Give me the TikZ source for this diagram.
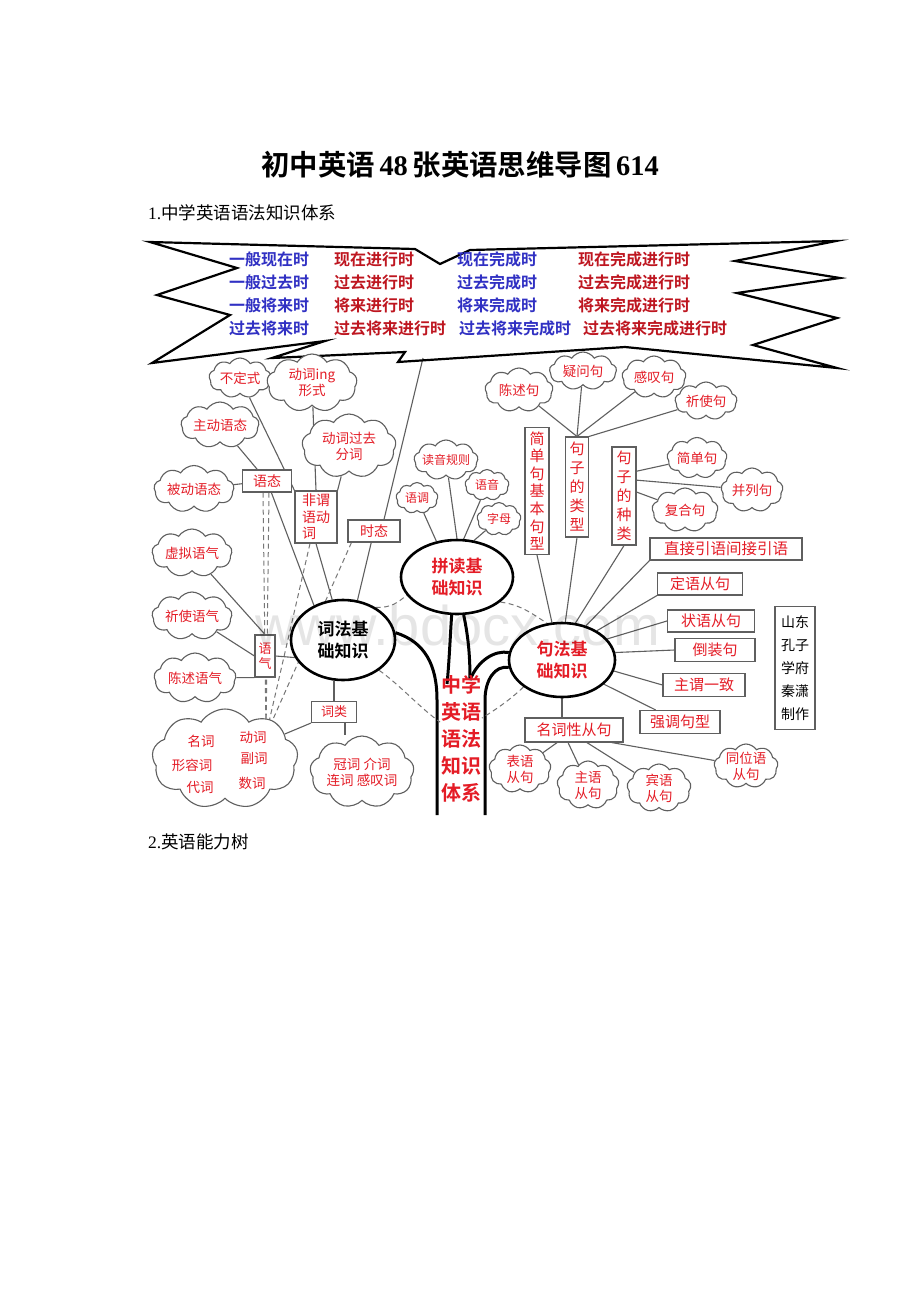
\documentclass[tikz,border=0pt]{standalone}
\usepackage{fontspec}
\setmainfont{Liberation Serif}
\setsansfont{Liberation Sans}
\newfontfamily\cjk[BoldFont={Noto Sans CJK SC Bold}]{Noto Sans CJK SC}
\usetikzlibrary{shapes.symbols,shapes.geometric,calc}
\pgfdeclarelayer{bg}
\pgfsetlayers{bg,main}
\definecolor{rd}{RGB}{228,28,38}
\definecolor{drd}{RGB}{190,22,32}
\definecolor{blu}{RGB}{48,48,195}
\definecolor{edge}{RGB}{95,95,95}
\tikzset{
 cl/.style={cloud, cloud puffs=9, cloud puff arc=115, cloud ignores aspect, draw=edge, line width=1.1pt, inner sep=0pt, fill=white},
 ctext/.style={font=\cjk\fontsize{13.5}{16}\selectfont, text=rd, align=center, inner sep=0pt},
 bx/.style={draw=edge, line width=1.1pt, inner sep=1pt, font=\cjk\fontsize{14}{17}\selectfont, text=rd, fill=white, align=center},
 el/.style={ellipse, draw=black, line width=2.6pt, inner sep=0pt, fill=white, align=center, font=\cjk\bfseries\fontsize{17}{22}\selectfont},
 ln/.style={draw=edge, line width=1.1pt},
 dl/.style={draw=edge!85, line width=1pt, dash pattern=on 5pt off 3.5pt},
 bt/.style={font=\cjk\bfseries\fontsize{16}{18}\selectfont, anchor=west, inner sep=0pt},
 tk/.style={draw=black, line width=3pt},
}
\begin{document}
\begin{tikzpicture}[x=1pt,y=-1pt]
\useasboundingbox (0,0) rectangle (920,1302);
\begin{pgfonlayer}{bg}
\fill[white] (0,0) rectangle (920,1302);
\end{pgfonlayer}

% headings
\node[font=\fontsize{28.4}{32}\selectfont, inner sep=0pt] (title) at (460,165) {{\cjk\bfseries 初中英语}\,\textbf{48}\,{\cjk\bfseries 张英语思维导图}\,\textbf{614}};
\node[anchor=west, font=\fontsize{17.5}{19}\selectfont, inner sep=0pt] (h1) at (148,213) {1.{\cjk 中学英语语法知识体系}};
\node[anchor=west, font=\fontsize{17.5}{19}\selectfont, inner sep=0pt] (h2) at (148,842) {2.{\cjk 英语能力树}};

% burst
\draw[line width=2.2pt, line join=miter, miter limit=20]
 (150,242) -- (415,249) -- (440,264) -- (470,250) -- (836,241) -- (735,261) -- (840,278)
 -- (737,293) -- (837,318) -- (753,345) -- (837,368) -- (625,347) -- (398,362)
 -- (405,352) -- (272,358) -- (325,341) -- (152,363) -- (230,315) -- (157,295) -- (237,268) -- cycle;
\coordinate (b1) at (423,358);

\foreach \txt/\x/\y/\c/\n in {
 一般现在时/229/259/blu/t11, 现在进行时/334/259/drd/t12, 现在完成时/457/259/blu/t13, 现在完成进行时/578/259/drd/t14,
 一般过去时/229/282/blu/t21, 过去进行时/334/282/drd/t22, 过去完成时/457/282/blu/t23, 过去完成进行时/578/282/drd/t24,
 一般将来时/229/305/blu/t31, 将来进行时/334/305/drd/t32, 将来完成时/457/305/blu/t33, 将来完成进行时/578/305/drd/t34,
 过去将来时/229/328/blu/t41, 过去将来进行时/334/328/drd/t42, 过去将来完成时/459/328/blu/t43, 过去将来完成进行时/583/328/drd/t44}
 \node[bt, text=\c] (\n) at (\x,\y) {\txt};

% ellipses
\node[el, minimum width=104pt, minimum height=80pt] (cf) at (343,640) {词法基\\础知识};
\node[el, minimum width=112pt, minimum height=74pt, text=rd] (pd) at (457,577) {拼读基\\础知识};
\node[el, minimum width=106pt, minimum height=74pt, text=rd] (jf) at (562,660) {句法基\\础知识};

% left clouds
\node[cl, minimum width=62pt, minimum height=40pt, label={[ctext]center:不定式}] (ndb) at (240,378) {};
\node[cl, minimum width=90pt, minimum height=58pt, label={[ctext]center:动词ing\\形式}] (ing) at (312,383) {};
\node[cl, minimum width=78pt, minimum height=46pt, label={[ctext]center:主动语态}] (zdyt) at (220,425) {};
\node[cl, minimum width=94pt, minimum height=64pt, label={[ctext]center:动词过去\\分词}] (gqfc) at (349,446) {};
\node[cl, minimum width=80pt, minimum height=47pt, label={[ctext]center:被动语态}] (bdyt) at (194,489) {};
\node[cl, minimum width=80pt, minimum height=48pt, label={[ctext]center:虚拟语气}] (xnyq) at (192,553) {};
\node[cl, minimum width=80pt, minimum height=48pt, label={[ctext]center:祈使语气}] (qsyq) at (192,616) {};
\node[cl, minimum width=82pt, minimum height=50pt, label={[ctext]center:陈述语气}] (csyq) at (195,678) {};
\node[cl, minimum width=146pt, minimum height=100pt] (bigc) at (225,759) {};
\node[ctext] (n1) at (201,741) {名词};
\node[ctext] (n2) at (253,737) {动词};
\node[ctext] (n3) at (192,765) {形容词};
\node[ctext] (n4) at (254,758) {副词};
\node[ctext] (n5) at (200,787) {代词};
\node[ctext] (n6) at (252,783) {数词};
\node[cl, minimum width=104pt, minimum height=72pt, label={[ctext]center:冠词\ 介词\\连词\ 感叹词}] (gcjc) at (362,772) {};

% left boxes
\node[bx, minimum width=49pt, minimum height=22pt] (yt) at (267,481) {语态};
\node[bx, minimum width=42pt, minimum height=52pt, align=left, font=\cjk\fontsize{14}{16.5}\selectfont] (fwy) at (316,517) {非谓\\语动\\词};
\node[bx, minimum width=52pt, minimum height=22pt] (st) at (374,531) {时态};
\node[bx, minimum width=20pt, minimum height=42pt, font=\cjk\fontsize{13}{15}\selectfont] (yq) at (265,656) {语\\气};
\node[bx, minimum width=45pt, minimum height=21pt, font=\cjk\fontsize{13}{15}\selectfont] (clb) at (334,712) {词类};

% phonics clouds
\node[cl, minimum width=64pt, minimum height=40pt, label={[ctext,font=\cjk\fontsize{12}{14}\selectfont]center:读音规则}] (dyg) at (446,460) {};
\node[cl, minimum width=42pt, minimum height=31pt, label={[ctext,font=\cjk\fontsize{12}{14}\selectfont]center:语调}] (yd) at (417,498) {};
\node[cl, minimum width=44pt, minimum height=31pt, label={[ctext,font=\cjk\fontsize{12}{14}\selectfont]center:语音}] (yy) at (487,485) {};
\node[cl, minimum width=44pt, minimum height=33pt, label={[ctext,font=\cjk\fontsize{12}{14}\selectfont]center:字母}] (zm) at (499,519) {};

% sentence clouds
\node[cl, minimum width=68pt, minimum height=44pt, label={[ctext]center:陈述句}] (csj) at (519,390) {};
\node[cl, minimum width=67pt, minimum height=38pt, label={[ctext]center:疑问句}] (ywj) at (583,371) {};
\node[cl, minimum width=64pt, minimum height=42pt, label={[ctext]center:感叹句}] (gtj) at (654,377) {};
\node[cl, minimum width=62pt, minimum height=38pt, label={[ctext]center:祈使句}] (qsj) at (706,401) {};
\node[cl, minimum width=60pt, minimum height=41pt, label={[ctext]center:简单句}] (jdj) at (697,458) {};
\node[cl, minimum width=62pt, minimum height=44pt, label={[ctext]center:并列句}] (blj) at (752,490) {};
\node[cl, minimum width=66pt, minimum height=44pt, label={[ctext]center:复合句}] (fhj) at (685,510) {};
\node[cl, minimum width=62pt, minimum height=48pt, label={[ctext]center:表语\\从句}] (byc) at (520,769) {};
\node[cl, minimum width=62pt, minimum height=48pt, label={[ctext]center:主语\\从句}] (zyc) at (588,785) {};
\node[cl, minimum width=64pt, minimum height=48pt, label={[ctext]center:宾语\\从句}] (byc2) at (659,788) {};
\node[cl, minimum width=64pt, minimum height=44pt, label={[ctext]center:同位语\\从句}] (twy) at (746,766) {};

% sentence boxes
\node[bx, minimum width=24pt, minimum height=127pt, font=\cjk\fontsize{15}{17.6}\selectfont] (jdjx) at (537,491) {简\\单\\句\\基\\本\\句\\型};
\node[bx, minimum width=23pt, minimum height=100pt, font=\cjk\fontsize{15}{19}\selectfont] (jzlx) at (577,487) {句\\子\\的\\类\\型};
\node[bx, minimum width=24pt, minimum height=98pt, font=\cjk\fontsize{15}{19}\selectfont] (jzzl) at (624,496) {句\\子\\的\\种\\类};
\node[bx, minimum width=152pt, minimum height=22pt, font=\cjk\fontsize{15.5}{17}\selectfont] (zjyy) at (726,549) {直接引语间接引语};
\node[bx, minimum width=85pt, minimum height=22pt, font=\cjk\fontsize{15}{17}\selectfont] (dycj) at (700,584) {定语从句};
\node[bx, minimum width=87pt, minimum height=22pt, font=\cjk\fontsize{15}{17}\selectfont] (zycj) at (711,621) {状语从句};
\node[bx, minimum width=80pt, minimum height=23pt, font=\cjk\fontsize{15}{17}\selectfont] (dzj) at (715,650) {倒装句};
\node[bx, minimum width=82pt, minimum height=23pt, font=\cjk\fontsize{15}{17}\selectfont] (zwyz) at (704,685) {主谓一致};
\node[bx, minimum width=80pt, minimum height=23pt, font=\cjk\fontsize{15}{17}\selectfont] (qdjx) at (680,722) {强调句型};
\node[bx, minimum width=98pt, minimum height=24pt, font=\cjk\fontsize{15}{17}\selectfont] (mcx) at (574,730) {名词性从句};
\node[bx, minimum width=40pt, minimum height=123pt, text=black, font=\cjk\fontsize{14}{23}\selectfont] (sd) at (795,668) {山东\\孔子\\学府\\秦潇\\制作};

% trunk text
\node[align=center, inner sep=0pt, text=rd, font=\cjk\bfseries\fontsize{20}{27}\selectfont] (trunk) at (461,739) {中学\\英语\\语法\\知识\\体系};

\begin{pgfonlayer}{bg}
% trunk lines
\draw[tk] (cf.8) .. controls (425,642) and (437,665) .. (437,700) -- (437,815) coordinate (tl);
\draw[tk] (pd.-98) .. controls (450,640) and (449,665) .. (447,684) coordinate (tt1);
\draw[tk] (pd.-80) .. controls (469,640) and (470,660) .. (470,680) coordinate (tt2);
\draw[tk] (tt2) .. controls (478,660) and (495,650) .. (jf.172);
\draw[tk] (jf.188) .. controls (495,665) and (485,680) .. (485,700) -- (485,815) coordinate (tr);
% dashed ring
\draw[dl] (cf.45) .. controls (392,608) and (398,602) .. (pd.200);
\draw[dl] (pd.-30) .. controls (522,605) and (532,614) .. (jf.112);
\draw[dl] (jf.215) .. controls (510,700) and (495,710) .. (482,718) coordinate (dr);
\draw[dl] (cf.-40) .. controls (400,685) and (420,708) .. (440,722) coordinate (dlf);
% left connectors
\draw[ln] (ndb) -- (fwy.north west);
\draw[ln] (ing) -- (fwy.north);
\draw[ln] (gqfc) -- (fwy.north east);
\draw[ln] (zdyt) -- (yt);
\draw[ln] (yt) -- (cf.130);
\draw[ln] (bdyt) -- (yt);
\draw[ln] (fwy.south) -- (cf.105);
\draw[ln] (st) -- (cf.70);
\draw[ln] ($(st.north)+(10,0)$) -- (b1);
\draw[ln] (xnyq) -- (yq.north);
\draw[ln] (qsyq) -- (yq.west);
\draw[ln] (csyq) -- (yq.south west);
\draw[ln] (yq.east) -- (cf.200);
\draw[ln] (clb.north) -- (clb.north |- cf.south);
\draw[ln] (clb.south west) -- (bigc);
\draw[ln] ($(clb.south)+(11,0)$) coordinate (cq) -- (cq |- gcjc.north);
\coordinate (fan) at (266,735);
\draw[dl] ($(yt.south)+(-4,0)$) -- (fan);
\draw[dl] ($(yt.south)+(2,0)$) -- (fan);
\draw[dl] ($(fwy.south)+(-6,0)$) -- (fan);
\draw[dl] ($(st.south west)+(4,0)$) -- (fan);
% phonics
\draw[ln] (dyg) -- (pd.north);
\draw[ln] (yd) -- (pd.120);
\draw[ln] (yy) -- (pd.80);
\draw[ln] (zm) -- (pd.65);
% syntax
\draw[ln] (jdjx.south) -- (jf.105);
\draw[ln] (jzlx.south) -- (jf.85);
\draw[ln] (jzzl.south) -- (jf.70);
\draw[ln] (zjyy.south west) -- (jf.55);
\draw[ln] (dycj.south west) -- (jf.40);
\draw[ln] (zycj.west) -- (jf.25);
\draw[ln] (dzj.west) -- (jf.8);
\draw[ln] (zwyz.west) -- (jf.-12);
\draw[ln] ($(qdjx.north west)!0.2!(qdjx.north east)$) -- (jf.-30);
\draw[ln] (jf.south) -- (jf.south |- mcx.north);
\draw[ln] ($(mcx.south west)!0.33!(mcx.south east)$) -- (byc);
\draw[ln] ($(mcx.south west)!0.44!(mcx.south east)$) -- (zyc);
\draw[ln] ($(mcx.south west)!0.63!(mcx.south east)$) -- (byc2);
\draw[ln] ($(mcx.south west)!0.88!(mcx.south east)$) -- (twy);
\draw[ln] (jzlx.north) -- (csj);
\draw[ln] (jzlx.north) -- (ywj);
\draw[ln] (jzlx.north) -- (gtj);
\draw[ln] (jzlx.north east) -- (qsj);
\draw[ln] ($(jzzl.north east)!0.25!(jzzl.south east)$) -- (jdj);
\draw[ln] ($(jzzl.north east)!0.34!(jzzl.south east)$) -- (blj);
\draw[ln] ($(jzzl.north east)!0.46!(jzzl.south east)$) -- (fhj);
\end{pgfonlayer}

% watermark
\node[anchor=base west, inner sep=0pt, font=\sffamily\fontsize{56}{60}\selectfont, text=black, opacity=0.1] (wm) at (255,645) {www.bdocx.com};
\end{tikzpicture}
\end{document}
